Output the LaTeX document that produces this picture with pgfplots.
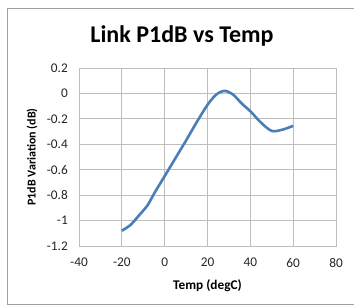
\documentclass[border=0pt]{standalone}
\usepackage{pgfplots}
\pgfplotsset{compat=1.18}
\usepackage{fontspec}
\setmainfont{Carlito}
\definecolor{xlblue}{RGB}{74,126,187}
\definecolor{gridgray}{RGB}{190,190,190}
\begin{document}
\begin{tikzpicture}
\useasboundingbox (0pt,0pt) rectangle (354pt,307pt);
\fill[white] (0pt,0pt) rectangle (354pt,307pt);
\draw[gray!75, line width=1pt] (7.5pt,2.5pt) rectangle (362pt,298.5pt);
\node[font=\bfseries\fontsize{24}{28}\selectfont, anchor=center] at (182pt,271pt) {Link P1dB vs Temp};
\begin{axis}[
  at={(79pt,61pt)}, anchor=south west,
  scale only axis, width=257pt, height=178pt,
  xmin=-40, xmax=80, ymin=-1.2, ymax=0.2,
  xtick={-40,-20,0,20,40,60,80},
  ytick={-1.2,-1,-0.8,-0.6,-0.4,-0.2,0,0.2},
  grid=major, major tick length=0,
  grid style={gridgray, line width=0.8pt},
  axis line style={gridgray, line width=0.8pt},
  /pgf/number format/.cd, fixed, assume math mode=true,
  /pgfplots/.cd,
  ticklabel style={font=\fontsize{13.3}{15}\selectfont, text=black!85},
  xticklabel style={anchor=north, inner sep=0pt, yshift=-12pt},
  yticklabel style={anchor=east, inner sep=0pt, xshift=-11pt},
  xlabel={\bfseries Temp (degC)},
  ylabel={\bfseries P1dB Variation (dB)},
  xlabel style={font=\fontsize{13.3}{15}\selectfont, at={(axis description cs:0.5,0)}, anchor=center, yshift=-40pt},
  ylabel style={font=\fontsize{12}{14}\selectfont, at={(axis description cs:0,0.5)}, anchor=center, yshift=47pt},
]
\addplot[xlblue, line width=2.6pt, smooth, tension=0.5] coordinates {
  (-20,-1.08) (-16,-1.035) (-12,-0.96) (-8,-0.88) (-5,-0.79) (0,-0.65)
  (5,-0.51) (10,-0.37) (15,-0.225) (20,-0.09) (24,-0.01) (28,0.02)
  (32,-0.01) (36,-0.08) (40,-0.14) (45,-0.23) (50,-0.295) (55,-0.285) (60,-0.255)
};
\end{axis}
\end{tikzpicture}
\end{document}
